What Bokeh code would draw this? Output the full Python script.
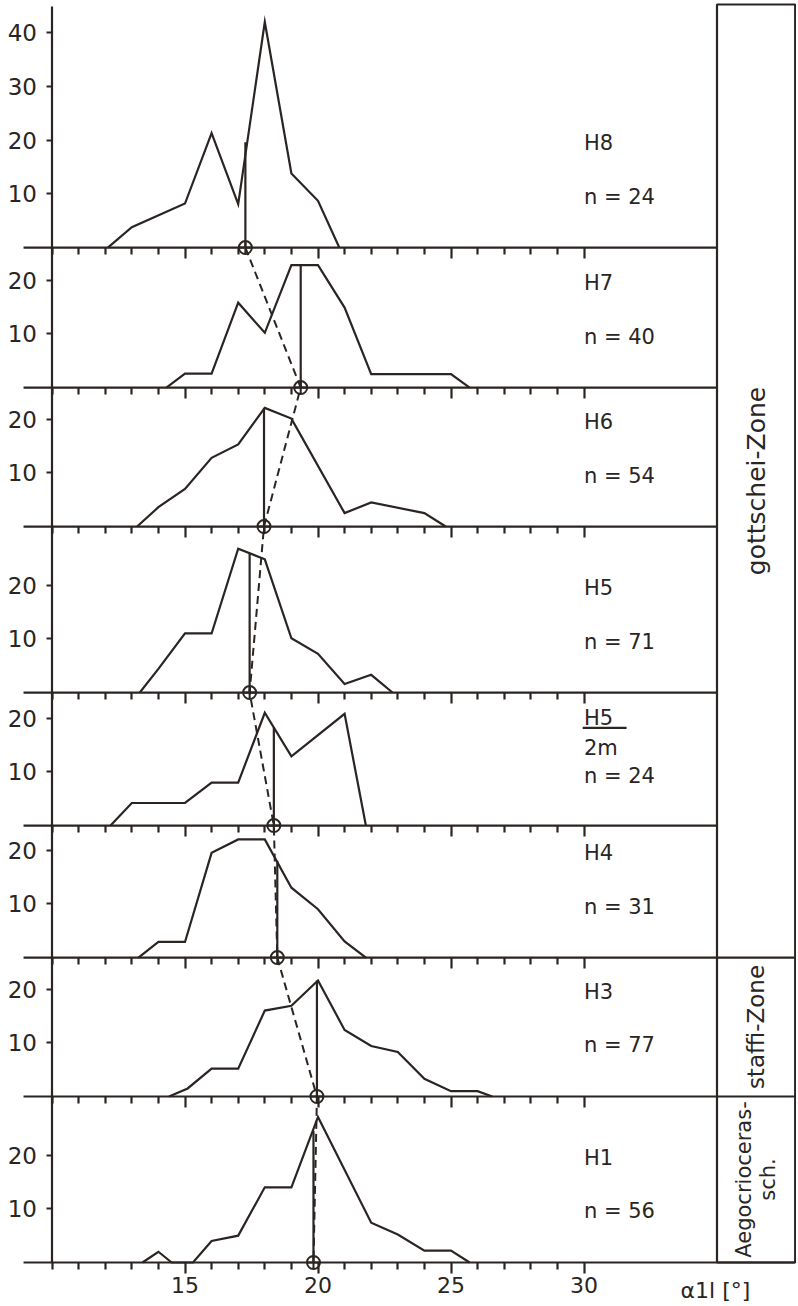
from bokeh.plotting import figure
from bokeh.models import Range1d, LinearAxis, FixedTicker
from bokeh.core.properties import value
from bokeh.embed import file_html
from bokeh.resources import INLINE
import math

# ---------------- data ----------------
samples = ["H8", "H7", "H6", "H5", "H5/2m", "H4", "H3", "H1"]
n_values = [24, 40, 54, 71, 24, 31, 77, 56]

h8_x = [12.1, 13, 15, 16, 17, 18, 19, 20, 20.8]
h8_y = [0, 3.8, 8.2, 21.3, 8.1, 42.0, 13.8, 8.7, 0]
h7_x = [14.3, 15, 16, 17, 18, 19, 20, 21, 22, 25, 25.7]
h7_y = [0, 2.6, 2.6, 15.8, 10.2, 22.8, 22.8, 14.9, 2.5, 2.5, 0]
h6_x = [13.2, 14, 15, 16, 17, 18, 19, 21, 22, 24, 24.8]
h6_y = [0, 3.6, 7.0, 12.8, 15.3, 22.1, 20.1, 2.5, 4.5, 2.5, 0]
h5_x = [13.3, 14, 15, 16, 17, 18, 19, 20, 21, 22, 22.8]
h5_y = [0, 4.4, 11.0, 11.0, 26.8, 24.8, 10.1, 7.2, 1.6, 3.3, 0]
h5_2m_x = [12.2, 13, 15, 16, 17, 18, 19, 21, 21.8]
h5_2m_y = [0, 4.2, 4.2, 8.0, 8.0, 21.0, 12.9, 20.8, 0]
h4_x = [13.25, 14, 15, 16, 17, 18, 19, 20, 21, 21.8]
h4_y = [0, 2.9, 2.9, 19.5, 22.0, 22.0, 13.0, 9.0, 3.0, 0]
h3_x = [14.4, 15.1, 16, 17, 18, 19, 20, 21, 22, 23, 24, 25, 26, 26.55]
h3_y = [0, 1.5, 5.2, 5.2, 16.0, 16.9, 21.6, 12.4, 9.4, 8.3, 3.3, 1.0, 1.0, 0]
h1_x = [13.4, 14, 14.5, 15.3, 16, 17, 18, 19, 20, 22, 23, 24, 25, 25.7]
h1_y = [0, 2.0, 0, 0, 4.0, 5.0, 14.0, 14.0, 27.1, 7.4, 5.2, 2.2, 2.2, 0]

curves_x = [h8_x, h7_x, h6_x, h5_x, h5_2m_x, h4_x, h3_x, h1_x]
curves_y = [h8_y, h7_y, h6_y, h5_y, h5_2m_y, h4_y, h3_y, h1_y]

mean_x = [17.27, 19.35, 17.97, 17.43, 18.34, 18.47, 19.96, 19.83]
mean_top = [19.6, 22.8, 22.1, 25.8, 18.3, 18.0, 21.6, 24.5]

y_tick_values = [[10, 20, 30, 40], [10, 20], [10, 20], [10, 20],
                 [10, 20], [10, 20], [10, 20], [10, 20]]
x_major = [15, 20, 25, 30]
x_minor = [10, 11, 12, 13, 14, 16, 17, 18, 19, 21, 22, 23, 24, 26, 27, 28, 29]
x_axis_label = "α1l [°]"

zones = ["gottschei-Zone", "staffi-Zone", "Aegocrioceras-\nsch."]
zone_members = [["H8", "H7", "H6", "H5", "H5/2m", "H4"], ["H3"], ["H1"]]

# ---------------- layout ----------------
W, H = 796, 1302
PX_X, PX_Y = 26.6, 5.37
X0 = 10 - 51.5 / PX_X
X1 = X0 + W / PX_X
Y0 = -(H - 1262) / PX_Y
Y1 = Y0 + H / PX_Y
panel_drop = [26.07, 25.88, 30.91, 24.77, 24.58, 25.88, 30.91, 0.0]  # baseline to next baseline
bases = [sum(panel_drop[i:]) for i in range(len(samples))]
LINE_START = 8.93
BOX_L, BOX_R = 35.0, X1 - 0.05
BOX_TOP = Y1 - 4 / PX_Y
AXIS_TOP = Y1 - 6 / PX_Y
LABEL_X = 30.0
INK = "#2a2522"
FONT = "DejaVu Sans"
LW = 2.2
zone_font_sizes = ["25px", "23px", "21px"]

p = figure(width=W, height=H, x_range=Range1d(X0, X1), y_range=Range1d(Y0, Y1),
           output_backend="svg", toolbar_location=None,
           min_border_left=0, min_border_right=0, min_border_top=0, min_border_bottom=0)
p.outline_line_color = None
p.grid.visible = False
p.background_fill_color = "white"
p.border_fill_color = "white"

# y axis (stacked panels) at x = 10
yt, yover = [], {}
for b, vals in zip(bases, y_tick_values):
    for v in vals:
        t = round(b + v, 4)
        yt.append(t)
        yover[t] = str(v)
ya = p.yaxis[0]
ya.fixed_location = 10
ya.ticker = FixedTicker(ticks=yt, minor_ticks=[])
ya.major_label_overrides = yover
ya.axis_line_color = None
ya.major_tick_out = 6
ya.major_tick_in = 0
ya.minor_tick_out = 0
ya.minor_tick_in = 0
ya.major_tick_line_color = INK
ya.major_tick_line_width = LW
ya.major_label_standoff = 9
ya.major_label_text_font = FONT
ya.major_label_text_font_size = "23px"
ya.major_label_text_color = INK

# bottom x axis at H1 baseline
xa = p.xaxis[0]
xa.fixed_location = 0
xa.ticker = FixedTicker(ticks=x_major, minor_ticks=x_minor)
xa.axis_line_color = None
xa.major_tick_out = 11
xa.major_tick_in = 0
xa.minor_tick_out = 7
xa.minor_tick_in = 0
xa.major_tick_line_color = INK
xa.minor_tick_line_color = INK
xa.major_tick_line_width = LW
xa.minor_tick_line_width = LW
xa.major_label_standoff = 3
xa.major_label_text_font = FONT
xa.major_label_text_font_size = "22px"
xa.major_label_text_color = INK

# tick marks on the other baselines (no labels)
for b in bases[:-1]:
    ax = LinearAxis(fixed_location=b, ticker=FixedTicker(ticks=x_major, minor_ticks=x_minor),
                    axis_line_color=None, major_label_text_color=None,
                    major_tick_out=11, major_tick_in=0, minor_tick_out=7, minor_tick_in=0,
                    major_tick_line_color=INK, minor_tick_line_color=INK,
                    major_tick_line_width=LW, minor_tick_line_width=LW)
    p.add_layout(ax, "below")

# baselines
zone_last = [m[-1] for m in zone_members]
x1s = [BOX_R if s in zone_last else BOX_L for s in samples]
p.segment(x0=[LINE_START] * len(samples), y0=bases, x1=x1s, y1=bases,
          line_color=INK, line_width=LW)
# vertical y-axis line
p.segment(x0=[10], y0=[0], x1=[10], y1=[AXIS_TOP], line_color=INK, line_width=LW)

# zone box
p.quad(left=[BOX_L], right=[BOX_R], bottom=[0], top=[BOX_TOP],
       fill_color=None, line_color=INK, line_width=LW)

# frequency polygons
p.multi_line(xs=curves_x, ys=[[b + v for v in ys] for b, ys in zip(bases, curves_y)],
             line_color=INK, line_width=LW, line_join="miter")

# mean lines
p.segment(x0=mean_x, y0=bases, x1=mean_x, y1=[b + t for b, t in zip(bases, mean_top)],
          line_color=INK, line_width=LW)
p.line(mean_x, bases, line_color=INK, line_width=2.0, line_dash="8 5")
p.scatter(mean_x, bases, marker="circle_cross", size=13, fill_color=None,
          line_color=INK, line_width=2.0)

# panel labels
tfont = value(FONT)
for s, n, b in zip(samples, n_values, bases):
    if "/" in s:
        num, den = s.split("/")
        p.text(x=[LABEL_X], y=[b + 20.1], text=[num], text_font=tfont, text_font_size="21px",
               text_color=INK, text_baseline="middle", text_align="left")
        p.segment(x0=[LABEL_X - 0.05], y0=[b + 18.2], x1=[LABEL_X + 1.6], y1=[b + 18.2],
                  line_color=INK, line_width=LW)
        p.text(x=[LABEL_X], y=[b + 14.5], text=[den], text_font=tfont, text_font_size="21px",
               text_color=INK, text_baseline="middle", text_align="left")
        ny = b + 9.3
    else:
        p.text(x=[LABEL_X], y=[b + 19.5], text=[s], text_font=tfont, text_font_size="21px",
               text_color=INK, text_baseline="middle", text_align="left")
        ny = b + 9.5
    p.text(x=[LABEL_X], y=[ny], text=[f"n = {n}"], text_font=tfont, text_font_size="21px",
           text_color=INK, text_baseline="middle", text_align="left")

# zone labels (rotated)
idx = {s: i for i, s in enumerate(samples)}
for z, members, fs in zip(zones, zone_members, zone_font_sizes):
    first = idx[members[0]]
    bottom = bases[idx[members[-1]]]
    top = BOX_TOP if first == 0 else bases[first - 1]
    p.text(x=[(BOX_L + BOX_R) / 2], y=[(bottom + top) / 2], text=[z], angle=math.pi / 2,
           text_font=tfont, text_font_size=fs, text_color=INK,
           text_align="center", text_baseline="middle", text_line_height=1.0)

# axis name at the lower right
p.text(x=[33.63], y=[-5.2], text=[x_axis_label], text_font=tfont, text_font_size="22px",
       text_color=INK, text_baseline="middle", text_align="left")

open("out.html", "w").write(file_html(p, INLINE))
